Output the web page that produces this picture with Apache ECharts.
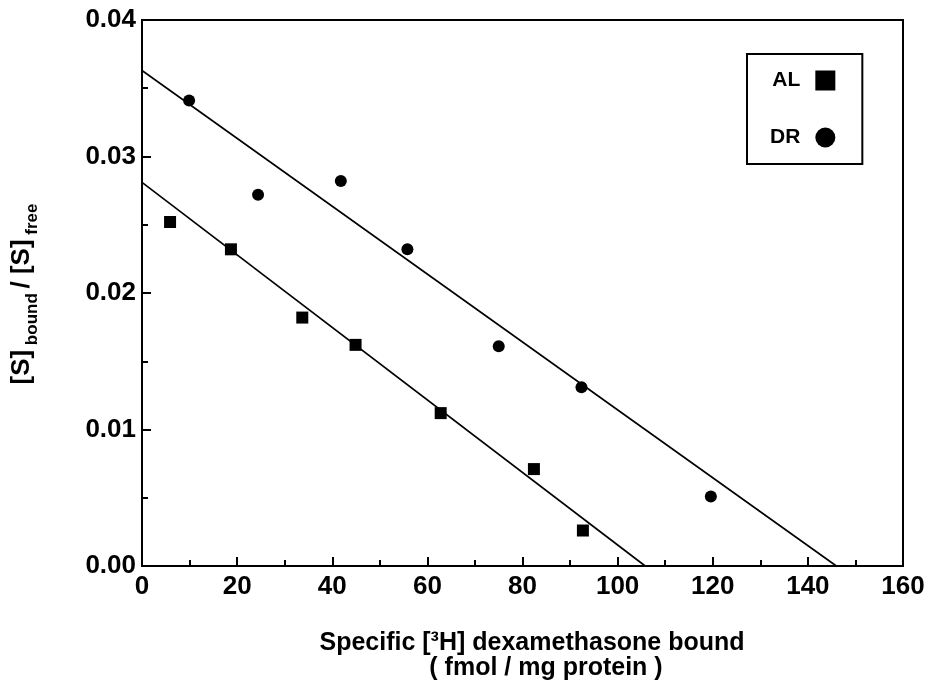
<!DOCTYPE html>
<html>
<head>
<meta charset="utf-8">
<script src="https://cdn.jsdelivr.net/npm/echarts@6/dist/echarts.min.js"></script>
<style>
  html, body { margin: 0; padding: 0; background: #fff; }
  #chart { width: 931px; height: 692px; }
</style>
</head>
<body>
<div id="chart"></div>
<script>
// Scatchard plot values
const alPoints = [[5.9, 0.0252], [18.7, 0.0232], [33.7, 0.0182], [44.9, 0.0162], [62.8, 0.0112], [82.4, 0.0071], [92.7, 0.0026]]
const drPoints = [[9.9, 0.0341], [24.4, 0.0272], [41.8, 0.0282], [55.8, 0.0232], [75.0, 0.0161], [92.4, 0.0131], [119.6, 0.0051]]

// regression lines: y-intercept and x-intercept
const alFit = [[0, 0.0281], [105.8, 0]]
const drFit = [[0, 0.0363], [146.0, 0]]

const seriesNames = ['AL', 'DR']
const font = 'Liberation Sans, Arial, sans-serif'

const chart = echarts.init(document.getElementById('chart'))

const option = {
  animation: false,
  grid: {
    left: 142,
    right: 28,
    top: 20,
    bottom: 126,
    show: true,
    borderColor: '#000',
    borderWidth: 2
  },
  xAxis: {
    type: 'value',
    min: 0,
    max: 160,
    interval: 20,
    axisLine: { lineStyle: { color: '#000', width: 2 } },
    axisTick: { inside: true, length: 9, lineStyle: { color: '#000', width: 2 } },
    minorTick: { show: true, splitNumber: 2, length: 6, lineStyle: { color: '#000', width: 2 } },
    splitLine: { show: false },
    axisLabel: { color: '#000', fontFamily: font, fontWeight: 'bold', fontSize: 26, margin: 8 }
  },
  yAxis: {
    type: 'value',
    min: 0,
    max: 0.04,
    interval: 0.01,
    axisLine: { lineStyle: { color: '#000', width: 2 } },
    axisTick: { inside: true, length: 9, lineStyle: { color: '#000', width: 2 } },
    minorTick: { show: true, splitNumber: 2, length: 6, lineStyle: { color: '#000', width: 2 } },
    splitLine: { show: false },
    axisLabel: {
      color: '#000', fontFamily: font, fontWeight: 'bold', fontSize: 26, margin: 6,
      formatter: v => v.toFixed(2)
    }
  },
  legend: {
    data: seriesNames,
    orient: 'vertical',
    left: 747,
    top: 54,
    align: 'right',
    itemWidth: 20,
    itemHeight: 20,
    itemGap: 36,
    padding: [16, 27, 16, 23],
    borderColor: '#000',
    borderWidth: 2,
    itemStyle: { opacity: 1 },
    textStyle: { color: '#000', fontFamily: font, fontWeight: 'bold', fontSize: 21, padding: [0, 10, 0, 0] }
  },
  series: [
    {
      name: 'AL',
      type: 'scatter',
      symbol: 'rect',
      symbolSize: 12,
      itemStyle: { color: '#000', opacity: 1 },
      data: alPoints,
      z: 3
    },
    {
      name: 'DR',
      type: 'scatter',
      symbol: 'circle',
      symbolSize: 12,
      itemStyle: { color: '#000', opacity: 1 },
      data: drPoints,
      z: 3
    },
    {
      name: 'AL fit',
      type: 'line',
      showSymbol: false,
      lineStyle: { color: '#000', width: 1.6 },
      data: alFit,
      z: 2
    },
    {
      name: 'DR fit',
      type: 'line',
      showSymbol: false,
      lineStyle: { color: '#000', width: 1.6 },
      data: drFit,
      z: 2
    }
  ],
  graphic: [
    {
      type: 'text',
      x: 532,
      y: 643,
      style: {
        text: 'Specific [³H] dexamethasone bound',
        font: 'bold 25px ' + font,
        fill: '#000',
        textAlign: 'center',
        textVerticalAlign: 'middle'
      }
    },
    {
      type: 'text',
      x: 546,
      y: 668,
      style: {
        text: '( fmol / mg protein )',
        font: 'bold 25px ' + font,
        fill: '#000',
        textAlign: 'center',
        textVerticalAlign: 'middle'
      }
    },
    {
      type: 'text',
      x: 25,
      y: 294,
      rotation: Math.PI / 2,
      style: {
        text: '{m|[S]}{s| bound }{m|/ [S]}{s| free}',
        align: 'center',
        verticalAlign: 'middle',
        fill: '#000',
        rich: {
          m: { fontFamily: font, fontWeight: 'bold', fontSize: 26, verticalAlign: 'bottom', padding: [0, 0, 6, 0] },
          s: { fontFamily: font, fontWeight: 'bold', fontSize: 17, verticalAlign: 'bottom' }
        }
      }
    }
  ]
}

chart.setOption(option)
</script>
</body>
</html>
